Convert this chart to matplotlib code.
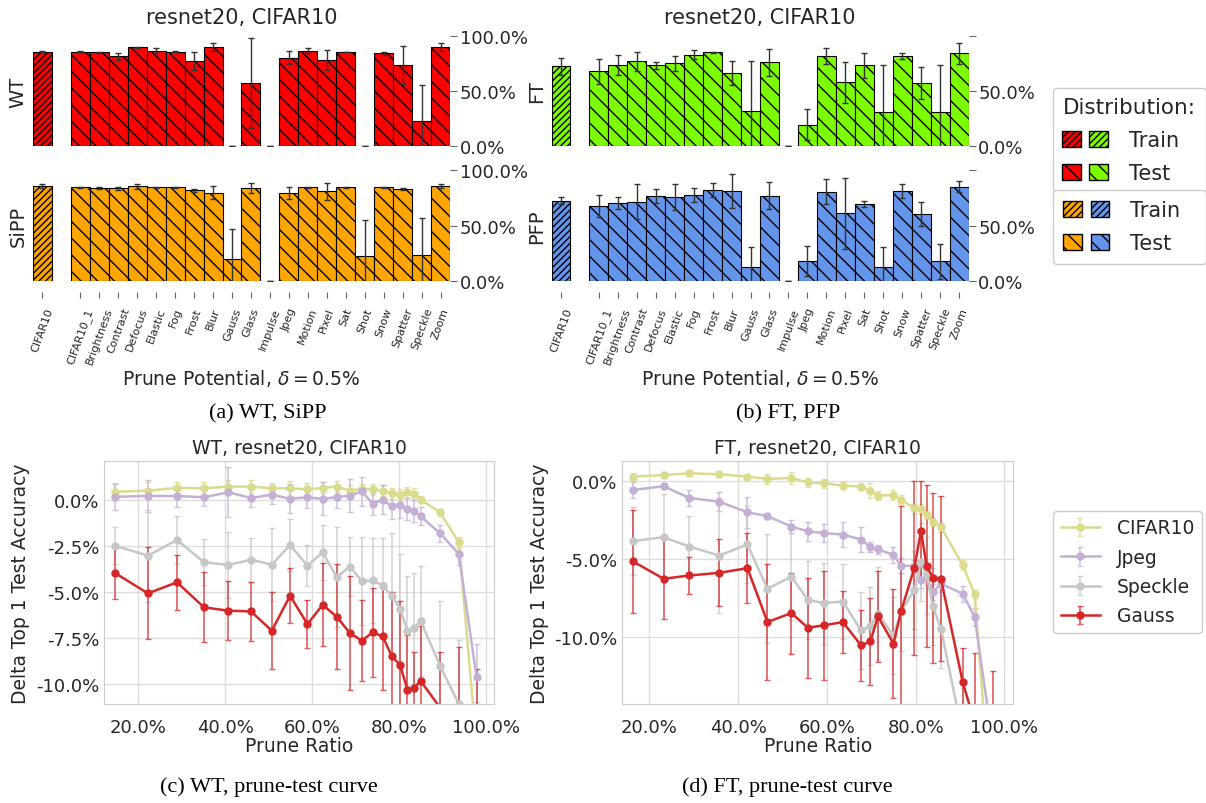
import numpy as np
import matplotlib.pyplot as plt
from matplotlib.patches import Patch
from matplotlib.legend_handler import HandlerTuple
from matplotlib.ticker import PercentFormatter

plt.rcParams['font.family'] = 'DejaVu Sans'
plt.rcParams['text.color'] = '.15'
plt.rcParams['axes.labelcolor'] = '.15'
plt.rcParams['xtick.color'] = '.15'
plt.rcParams['ytick.color'] = '.15'
plt.rcParams['axes.unicode_minus'] = False

# ---- prune potential bars (CIFAR10 train + 20 test distributions) ----
dists = ["CIFAR10", "CIFAR10_1", "Brightness", "Contrast", "Defocus", "Elastic",
         "Fog", "Frost", "Blur", "Gauss", "Glass", "Impulse", "Jpeg", "Motion",
         "Pixel", "Sat", "Shot", "Snow", "Spatter", "Speckle", "Zoom"]

wt_mean = [85.7, 85.7, 85.2, 81.5, 89.7, 86.7, 85.7, 77.3, 89.7, 0.0, 57.0, 0.0,
           80.3, 86.7, 78.5, 85.5, 0.0, 84.2, 73.6, 23.0, 89.7]
wt_err = [0.3, 0.3, 0.3, 3.0, 0.3, 2.0, 0.3, 8.6, 3.6, 0.0, 41.0, 0.0,
          6.0, 2.0, 9.0, 0.3, 0.0, 1.5, 17.0, 32.5, 3.5]

sipp_mean = [85.6, 84.4, 83.8, 83.5, 85.3, 84.4, 84.4, 81.7, 79.6, 19.8, 83.5, 0.0,
             79.6, 84.4, 80.8, 84.4, 22.8, 84.4, 82.6, 23.4, 85.6]
sipp_err = [2.2, 0.3, 0.5, 1.5, 2.5, 0.3, 0.3, 1.2, 5.6, 27.0, 4.5, 0.0,
            5.5, 0.3, 7.5, 0.3, 32.0, 0.3, 1.0, 33.4, 2.0]

ft_mean = [72.4, 67.9, 73.9, 77.0, 73.3, 75.2, 83.0, 85.2, 66.4, 31.5, 76.1, 0.0,
           19.4, 81.5, 57.9, 73.3, 30.6, 81.5, 57.3, 30.6, 84.2]
ft_err = [7.6, 11.4, 9.0, 8.8, 3.5, 6.8, 4.0, 0.3, 10.8, 45.5, 12.4, 0.0,
          13.8, 7.4, 18.5, 11.4, 43.0, 2.6, 14.4, 43.0, 9.4]

pfp_mean = [72.4, 67.3, 70.3, 71.5, 76.6, 75.4, 77.5, 82.0, 81.4, 12.6, 76.9, 0.0,
            18.3, 80.5, 61.0, 69.4, 12.6, 81.1, 60.1, 17.7, 85.0]
pfp_err = [3.3, 9.8, 5.0, 15.8, 6.3, 11.7, 6.3, 6.0, 15.3, 17.7, 12.0, 0.0,
           13.5, 11.0, 32.0, 3.0, 17.7, 6.5, 10.8, 15.6, 4.7]

# ---- prune-test curves ----
wt_ratio = [14.6, 22.2, 28.9, 35.1, 40.7, 45.9, 50.7, 54.9, 58.9, 62.4, 65.6, 68.7,
            71.4, 73.9, 76.2, 78.3, 80.2, 81.9, 83.4, 84.9, 89.4, 93.7, 97.8]
wt_cifar = [0.43, 0.49, 0.64, 0.62, 0.71, 0.71, 0.62, 0.62, 0.56, 0.64, 0.71, 0.49,
            0.60, 0.56, 0.49, 0.36, 0.27, 0.40, 0.33, 0.0, -0.69, -2.32, -13.4]
wt_cifar_err = [0.45, 0.45, 0.3, 0.35, 0.35, 0.35, 0.3, 0.4, 0.35, 0.3, 0.3, 0.3,
                0.25, 0.3, 0.3, 0.3, 0.3, 0.3, 0.3, 0.2, 0.2, 0.3, 0.5]
wt_jpeg = [0.16, 0.20, 0.20, 0.13, 0.40, 0.09, 0.27, 0.05, 0.13, 0.04, 0.14, 0.22,
           0.45, -0.22, 0.0, -0.36, -0.31, -0.52, -0.63, -0.90, -1.83, -2.95, -9.65]
wt_jpeg_err = [0.7, 0.85, 0.6, 0.5, 1.35, 0.5, 0.5, 0.8, 0.6, 0.9, 0.6, 0.9,
               0.8, 0.6, 0.8, 0.7, 0.7, 0.6, 0.6, 0.5, 0.45, 0.6, 1.8]
wt_speckle = [-2.50, -3.04, -2.19, -3.40, -3.55, -3.26, -3.53, -2.46, -3.59, -2.86,
              -4.20, -3.64, -4.43, -4.39, -4.67, -5.22, -5.94, -7.12, -6.99, -6.58,
              -9.02, -11.1, -14.5]
wt_speckle_err = [1.0, 2.5, 1.3, 1.25, 1.8, 1.2, 2.0, 1.4, 1.1, 1.5, 2.7, 1.6,
                  2.4, 2.3, 2.6, 3.4, 3.0, 3.0, 3.0, 3.0, 3.5, 3.5, 3.5]
wt_gauss = [-3.98, -5.09, -4.49, -5.85, -6.03, -6.07, -7.12, -5.22, -6.76, -5.71,
            -6.36, -7.26, -7.66, -7.21, -7.43, -8.51, -8.98, -10.33, -10.25, -9.84,
            -11.3, -13.5, -14.5]
wt_gauss_err = [1.4, 2.5, 1.5, 1.9, 1.6, 1.6, 2.1, 1.5, 1.3, 2.25, 2.85, 3.1,
                2.2, 2.4, 2.9, 3.5, 3.5, 3.0, 2.0, 3.0, 3.0, 5.5, 5.3]

ft_ratio = [16.2, 23.2, 29.0, 35.7, 42.1, 46.6, 52.0, 55.7, 59.3, 63.6, 67.7, 69.8,
            71.5, 75.0, 76.7, 79.7, 81.2, 82.5, 83.9, 85.7, 90.6, 93.3, 97.5]
ft_cifar = [0.30, 0.40, 0.51, 0.45, 0.30, 0.15, 0.21, -0.06, -0.13, -0.28, -0.34,
            -0.60, -0.92, -0.88, -1.18, -1.73, -1.78, -2.14, -2.59, -2.95, -5.37,
            -7.27, -22.9]
ft_cifar_err = [0.2, 0.2, 0.2, 0.2, 0.15, 0.3, 0.4, 0.3, 0.3, 0.2, 0.2, 0.5,
                0.3, 0.3, 0.3, 0.3, 0.3, 0.3, 0.3, 0.3, 0.3, 0.3, 0.5]
ft_jpeg = [-0.56, -0.32, -1.07, -1.31, -1.99, -2.24, -2.91, -3.21, -3.33, -3.42,
           -3.74, -4.23, -4.38, -4.72, -5.41, -5.45, -6.37, -6.15, -7.12, -6.58,
           -7.22, -8.72, -17.1]
ft_jpeg_err = [0.5, 0.2, 0.5, 0.6, 1.0, 0.2, 0.4, 0.6, 0.6, 0.8, 0.8, 0.3,
               0.3, 0.5, 0.5, 0.4, 0.5, 0.5, 0.5, 0.5, 0.5, 0.6, 1.0]
ft_speckle = [-3.85, -3.59, -4.19, -4.77, -4.06, -6.90, -6.12, -7.61, -7.82, -7.72,
              -9.58, -9.3, -8.5, -9.9, -8.4, -6.97, -5.19, -6.05, -8.04, -9.47,
              -16.3, -18.0, -20.0]
ft_speckle_err = [2.2, 2.8, 1.95, 3.7, 2.5, 3.5, 2.8, 2.5, 2.6, 2.4, 2.5, 2.5,
                  3.0, 2.5, 2.5, 2.5, 2.5, 2.5, 2.5, 2.5, 3.0, 3.0, 3.0]
ft_gauss = [-5.13, -6.26, -6.05, -5.88, -5.58, -9.04, -8.46, -9.40, -9.25, -9.04,
            -10.54, -10.28, -8.68, -10.43, -8.36, -5.56, -3.21, -5.47, -6.20, -6.26,
            -12.9, -15.5, -18.0]
ft_gauss_err = [3.3, 2.6, 1.2, 2.15, 2.24, 3.7, 2.6, 3.2, 3.5, 2.0, 2.3, 2.8,
                2.9, 3.5, 6.8, 5.6, 3.2, 5.2, 5.45, 5.3, 2.2, 4.5, 5.8]

curve_names = ["CIFAR10", "Jpeg", "Speckle", "Gauss"]
curve_colors = ["#dbdb8d", "#c5b0d5", "#c7c7c7", "#d62728"]

W, H = 1206, 804
fig = plt.figure(figsize=(W / 100, H / 100), dpi=100)


def rect(left, top, right, bottom):
    return [left / W, 1 - bottom / H, (right - left) / W, (bottom - top) / H]


pos = [0] + list(range(2, 22))


def bar_panel(r, mean, err, color, ylabel, title=None, xlabels=False, top_label=True):
    ax = fig.add_axes(r)
    ax.bar(pos[:1], mean[:1], width=1.0, color=color, edgecolor='black',
           linewidth=0.8, hatch='/////')
    ax.bar(pos[1:], mean[1:], width=1.0, color=color, edgecolor='black',
           linewidth=0.8, hatch='\\\\')
    ax.errorbar(pos, mean, yerr=err, fmt='none', ecolor='0.2', elinewidth=1,
                capsize=2.5, capthick=1)
    ax.set_xlim(-0.5, 21.5)
    ax.set_ylim(0, 100)
    for s in ax.spines.values():
        s.set_visible(False)
    ax.yaxis.tick_right()
    ax.set_yticks([0, 50, 100])
    ax.set_yticklabels(['0.0%', '50.0%', '100.0%' if top_label else ''])
    ax.tick_params(axis='y', length=5, width=0.8, color='0.4', labelsize=13, pad=2)
    ax.set_ylabel(ylabel, fontsize=14)
    if title:
        ax.set_title(title, fontsize=15, pad=9)
    if xlabels:
        ax.spines['bottom'].set_position(('outward', 8))
        ax.set_xticks(pos)
        ax.set_xticklabels(dists, rotation=70, fontsize=8)
        ax.tick_params(axis='x', length=4, width=0.8, color='0.4', pad=6)
        ax.set_xlabel(r"Prune Potential, $\delta = 0.5\%$", fontsize=13.5, labelpad=1)
    else:
        ax.set_xticks([])
    return ax


bar_panel(rect(33, 37, 450, 147), wt_mean, wt_err, '#ff0000', 'WT', 'resnet20, CIFAR10')
bar_panel(rect(33, 171, 450, 282), sipp_mean, sipp_err, '#ffa500', 'SiPP', xlabels=True)
bar_panel(rect(551.5, 37, 968.5, 147), ft_mean, ft_err, '#7cfc00', 'FT',
          'resnet20, CIFAR10', top_label=False)
bar_panel(rect(551.5, 171, 968.5, 282), pfp_mean, pfp_err, '#6495ed', 'PFP',
          xlabels=True, top_label=False)

# distribution legend (two stacked boxes)
def pair(c1, c2, hatch):
    return (Patch(facecolor=c1, edgecolor='black', hatch=hatch),
            Patch(facecolor=c2, edgecolor='black', hatch=hatch))


leg_kw = dict(loc='upper left', mode='expand', borderaxespad=0, fontsize=15,
              handler_map={tuple: HandlerTuple(ndivide=None, pad=0.4)},
              handlelength=2.2, handleheight=0.8, handletextpad=1.0,
              labelspacing=0.62, edgecolor='0.8', framealpha=1)
fig.legend([pair('#ff0000', '#7cfc00', '/////'), pair('#ff0000', '#7cfc00', '\\\\')],
           ['Train', 'Test'], title='Distribution:', title_fontsize=15.5,
           borderpad=0.45,
           bbox_to_anchor=(1053 / W, 1 - 188 / H, 153 / W, 99 / H), **leg_kw)
fig.legend([pair('#ffa500', '#6495ed', '/////'), pair('#ffa500', '#6495ed', '\\\\')],
           ['Train', 'Test'], borderpad=0.5,
           bbox_to_anchor=(1053 / W, 1 - 271 / H, 153 / W, 80 / H), **leg_kw)


def curve_panel(r, ratio, series, errs, title, xlim, ylim, yticks):
    ax = fig.add_axes(r)
    ax.grid(True, color='0.87', linewidth=1)
    ax.set_axisbelow(True)
    for s in ax.spines.values():
        s.set_color('0.8')
    handles = []
    for name, color, y, e in zip(curve_names, curve_colors, series, errs):
        eb = ax.errorbar(ratio, y, yerr=e, color=color, marker='o', markersize=5,
                         linewidth=1.8, elinewidth=1.2, capsize=2.5, label=name)
        for art in list(eb[1]) + list(eb[2]):
            art.set_alpha(0.75)
        handles.append(eb)
    ax.set_xlim(*xlim)
    ax.set_ylim(*ylim)
    ax.set_xticks([20, 40, 60, 80, 100])
    ax.set_yticks(yticks)
    ax.xaxis.set_major_formatter(PercentFormatter(xmax=100, decimals=1))
    ax.yaxis.set_major_formatter(PercentFormatter(xmax=100, decimals=1))
    ax.tick_params(axis='both', length=0, labelsize=13)
    ax.tick_params(axis='x', pad=10)
    ax.set_title(title, fontsize=13.5)
    ax.set_xlabel('Prune Ratio', fontsize=13.5, labelpad=0)
    ax.set_ylabel('Delta Top 1 Test Accuracy', fontsize=13.5)
    return handles


h = curve_panel(rect(104, 462, 494, 705), wt_ratio,
                [wt_cifar, wt_jpeg, wt_speckle, wt_gauss],
                [wt_cifar_err, wt_jpeg_err, wt_speckle_err, wt_gauss_err],
                'WT, resnet20, CIFAR10', (12.1, 101.8), (-11.1, 2.1),
                [-10, -7.5, -5, -2.5, 0])
curve_panel(rect(622.3, 462, 1013.3, 705), ft_ratio,
            [ft_cifar, ft_jpeg, ft_speckle, ft_gauss],
            [ft_cifar_err, ft_jpeg_err, ft_speckle_err, ft_gauss_err],
            'FT, resnet20, CIFAR10', (13.9, 102.0), (-14.3, 1.3), [-10, -5, 0])

fig.legend(h, curve_names, loc='upper left', bbox_to_anchor=(1053 / W, 1 - 512 / H),
           borderaxespad=0, fontsize=13.5, handlelength=2.1, handletextpad=0.9,
           labelspacing=0.55, edgecolor='0.8', framealpha=1)

cap_kw = dict(ha='center', va='center', family='Liberation Serif', fontsize=16, color='black')
fig.text(268 / W, 1 - 414 / H, '(a) WT, SiPP', **cap_kw)
fig.text(788 / W, 1 - 414 / H, '(b) FT, PFP', **cap_kw)
fig.text(269 / W, 1 - 787 / H, '(c) WT, prune-test curve', **cap_kw)
fig.text(787 / W, 1 - 787 / H, '(d) FT, prune-test curve', **cap_kw)

plt.savefig('out.png', dpi=100)
